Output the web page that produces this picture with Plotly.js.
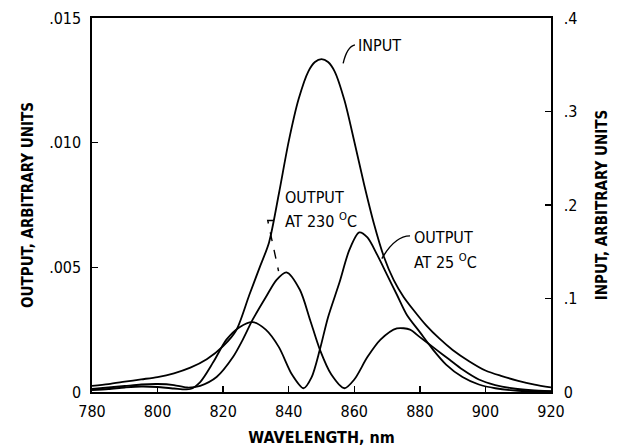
<!DOCTYPE html>
<html>
<head>
<meta charset="utf-8">
<script src="https://cdn.plot.ly/plotly-3.0.1.min.js"></script>
<style>html,body{margin:0;padding:0;background:#fff;}#chart{width:626px;height:447px;}</style>
</head>
<body>
<div id="chart"></div>
<script>
// INPUT spectrum (right axis, arbitrary units)
const inputWavelength = [780,785,790,795,800,805,810,815,820,824,828,831,834,837,840,843,846,848,850,852,854,857,860,863,866,869,872,875,878,882,886,890,895,900,905,910,915,920];
const inputValue = [0.0065,0.0085,0.011,0.0135,0.016,0.020,0.026,0.035,0.049,0.066,0.104,0.132,0.160,0.212,0.268,0.313,0.343,0.353,0.356,0.353,0.343,0.312,0.268,0.222,0.180,0.145,0.120,0.102,0.088,0.071,0.057,0.045,0.033,0.023,0.017,0.012,0.008,0.005];

// OUTPUT at 25 C (left axis)
const out25Wavelength = [780,785,790,795,800,805,810,813,817,821,825,829,833,837,841,844.5,847,849.5,852,855.5,858.5,861.5,864,867,870,873,876,880,884,888,893,898,903,910,920];
const out25Value = [0.00008,0.00012,0.00018,0.00022,0.0002,0.00014,0.00012,0.0004,0.0012,0.0021,0.0026,0.0028,0.0025,0.0018,0.0007,0.00015,0.0006,0.0017,0.0030,0.0044,0.0057,0.0064,0.0062,0.0055,0.0047,0.0039,0.0031,0.0024,0.0017,0.0011,0.0006,0.0003,0.00015,0.00005,0.00002];

// OUTPUT at 230 C (left axis)
const out230Wavelength = [780,785,790,795,800,805,809,813,818,823,826,829,833,836.3,839.3,843.4,846.5,849.5,853,857,860,864,868,873,877,880,885,889,893,898,903,908,914,920];
const out230Value = [0.00012,0.00018,0.00024,0.0003,0.00032,0.00028,0.00018,0.00025,0.0006,0.0014,0.0021,0.0029,0.0038,0.0045,0.0048,0.0041,0.0029,0.0017,0.0007,0.00015,0.0005,0.0014,0.0021,0.00255,0.0025,0.0022,0.0017,0.0013,0.0009,0.0005,0.00028,0.00015,0.00007,0.00003];

const xTicks = [780,800,820,840,860,880,900,920];
const leftTickVals = [0,0.005,0.010,0.015];
const leftTickText = ['0','.005','.010','.015'];
const rightTickVals = [0,0.1,0.2,0.3,0.4];
const rightTickText = ['0','.1','.2','.3','.4'];

const FONT = '"DejaVu Sans Condensed", "Liberation Sans Narrow", "DejaVu Sans", sans-serif';
const lineStyle = {color:'#000', width:1.8, shape:'spline', smoothing:0.8};

const traces = [
  {x: inputWavelength, y: inputValue, yaxis:'y2', mode:'lines', line: lineStyle, name:'INPUT'},
  {x: out25Wavelength, y: out25Value, yaxis:'y', mode:'lines', line: lineStyle, name:'OUTPUT AT 25 °C'},
  {x: out230Wavelength, y: out230Value, yaxis:'y', mode:'lines', line: lineStyle, name:'OUTPUT AT 230 °C'}
];

const axisCommon = {
  showgrid:false, zeroline:false, showline:true, linecolor:'#000', linewidth:1.6,
  ticks:'inside', ticklen:6, tickwidth:1.4, tickcolor:'#000',
  tickfont:{family:FONT, size:16, color:'#000'}
};

const annFont = {family:FONT, size:16, color:'#000'};

const layout = {
  width:626, height:447,
  margin:{l:92, r:75, t:18, b:55},
  paper_bgcolor:'#fff', plot_bgcolor:'#fff',
  showlegend:false,
  xaxis: Object.assign({}, axisCommon, {
    range:[780,920], tickvals:xTicks, ticktext:xTicks.map(String), mirror:true,
    ticklabelstandoff:4,
    title:{text:'<b>WAVELENGTH, nm</b>', font:{family:FONT, size:16, color:'#000'}, standoff:12}
  }),
  yaxis: Object.assign({}, axisCommon, {
    range:[0,0.015], tickvals:leftTickVals, ticktext:leftTickText,
    ticklabelstandoff:6,
    title:{text:'<b>OUTPUT, ARBITRARY UNITS</b>', font:{family:FONT, size:15, color:'#000'}, standoff:12}
  }),
  yaxis2: Object.assign({}, axisCommon, {
    range:[0,0.4], tickvals:rightTickVals, ticktext:rightTickText,
    overlaying:'y', side:'right', ticklabelstandoff:8,
    title:{text:'<b>INPUT, ARBITRARY UNITS</b>', font:{family:FONT, size:15, color:'#000'}, standoff:20}
  }),
  annotations:[
    {x:860.6, y:0.0139, xref:'x', yref:'y', text:'INPUT', showarrow:false, xanchor:'left', yanchor:'middle', font:annFont},
    {x:838.2, y:0.0078, xref:'x', yref:'y', text:'OUTPUT', showarrow:false, xanchor:'left', yanchor:'middle', font:annFont},
    {x:838.2, y:0.00686, xref:'x', yref:'y', text:'AT 230 <sup>O</sup>C', showarrow:false, xanchor:'left', yanchor:'middle', font:annFont},
    {x:877.5, y:0.0062, xref:'x', yref:'y', text:'OUTPUT', showarrow:false, xanchor:'left', yanchor:'middle', font:annFont},
    {x:877.5, y:0.00523, xref:'x', yref:'y', text:'AT 25 <sup>O</sup>C', showarrow:false, xanchor:'left', yanchor:'middle', font:annFont}
  ],
  shapes:[
    {type:'path', xref:'x', yref:'y', path:'M 860.2,0.01392 Q 857.8,0.01385 856.6,0.01318', line:{color:'#000', width:1.4}},
    {type:'path', xref:'x', yref:'y', path:'M 835.4,0.00688 L 833.6,0.00688 L 836.9,0.00485', line:{color:'#000', width:1.4, dash:'dash'}},
    {type:'path', xref:'x', yref:'y', path:'M 877.0,0.00626 Q 872.4,0.00626 868.4,0.00535', line:{color:'#000', width:1.4}}
  ]
};

Plotly.newPlot('chart', traces, layout, {displayModeBar:false, staticPlot:true});
</script>
</body>
</html>
